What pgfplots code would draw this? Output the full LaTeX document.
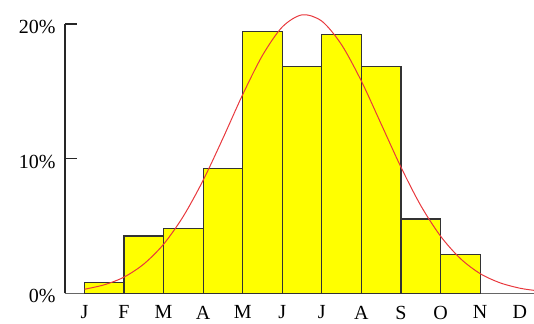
\documentclass[border=0pt]{standalone}
\usepackage{pgfplots}
\pgfplotsset{compat=1.18}
\usepackage{fontspec}
\setmainfont{Liberation Serif}

\definecolor{barfill}{HTML}{FFFF00}
\definecolor{baredge}{HTML}{333333}
\definecolor{curvered}{HTML}{E8383D}

\begin{document}
\begin{tikzpicture}
  \begin{axis}[
    name=ax,
    scale only axis,
    width=469bp, height=269.3bp,
    xmin=-0.49, xmax=11.36,
    ymin=0, ymax=20,
    clip=false,
    axis lines*=left,
    axis line style={-},
    x axis line style={draw=black!60, line width=1.2pt},
    y axis line style={draw=black!85, line width=1.4pt},
    xtick={0,...,11},
    xticklabels={J,F,M,A,M,J,J,A,S,O,N,D},
    ytick={0,10,20},
    yticklabel={\pgfmathprintnumber{\tick}\%},
    /pgf/number format/assume math mode=true,
    tick label style={font=\fontsize{20bp}{24bp}\selectfont},
    x tick label style={yshift=-9bp},
    y tick label style={xshift=-6bp, yshift=-3bp},
    x tick style={draw=none},
    y tick style={draw=black!85, line width=1.2pt},
    major tick length=12bp,
    tick align=inside,
  ]
    % monthly share, bars span J-F ... O-N
    \addplot[ybar interval, fill=barfill, draw=baredge, line width=1.2pt]
      coordinates {
        (0,0.79)(1,4.25)(2,4.83)(3,9.28)(4,19.47)
        (5,16.82)(6,19.23)(7,16.82)(8,5.52)(9,2.90)(10,0)
      };

    % fitted curve
    \addplot[curvered, line width=1pt, smooth, mark=none]
      coordinates {
        (0,0.30)(0.5,0.63)(1,1.20)(1.5,2.17)(2,3.64)(2.5,5.72)
        (3,8.39)(3.5,11.51)(4,14.76)(4.5,17.67)(5,19.78)(5.5,20.68)
        (6,20.21)(6.5,18.45)(7,15.75)(7.5,12.56)(8,9.36)(8.5,6.51)
        (9,4.24)(9.5,2.58)(10,1.46)(10.5,0.78)(11,0.38)(11.36,0.22)
      };
  \end{axis}
  \pgfresetboundingbox
  \path[use as bounding box] ([xshift=-65bp,yshift=-30.7bp]ax.south west)
    rectangle ([yshift=24bp]ax.north east);
\end{tikzpicture}
\end{document}
